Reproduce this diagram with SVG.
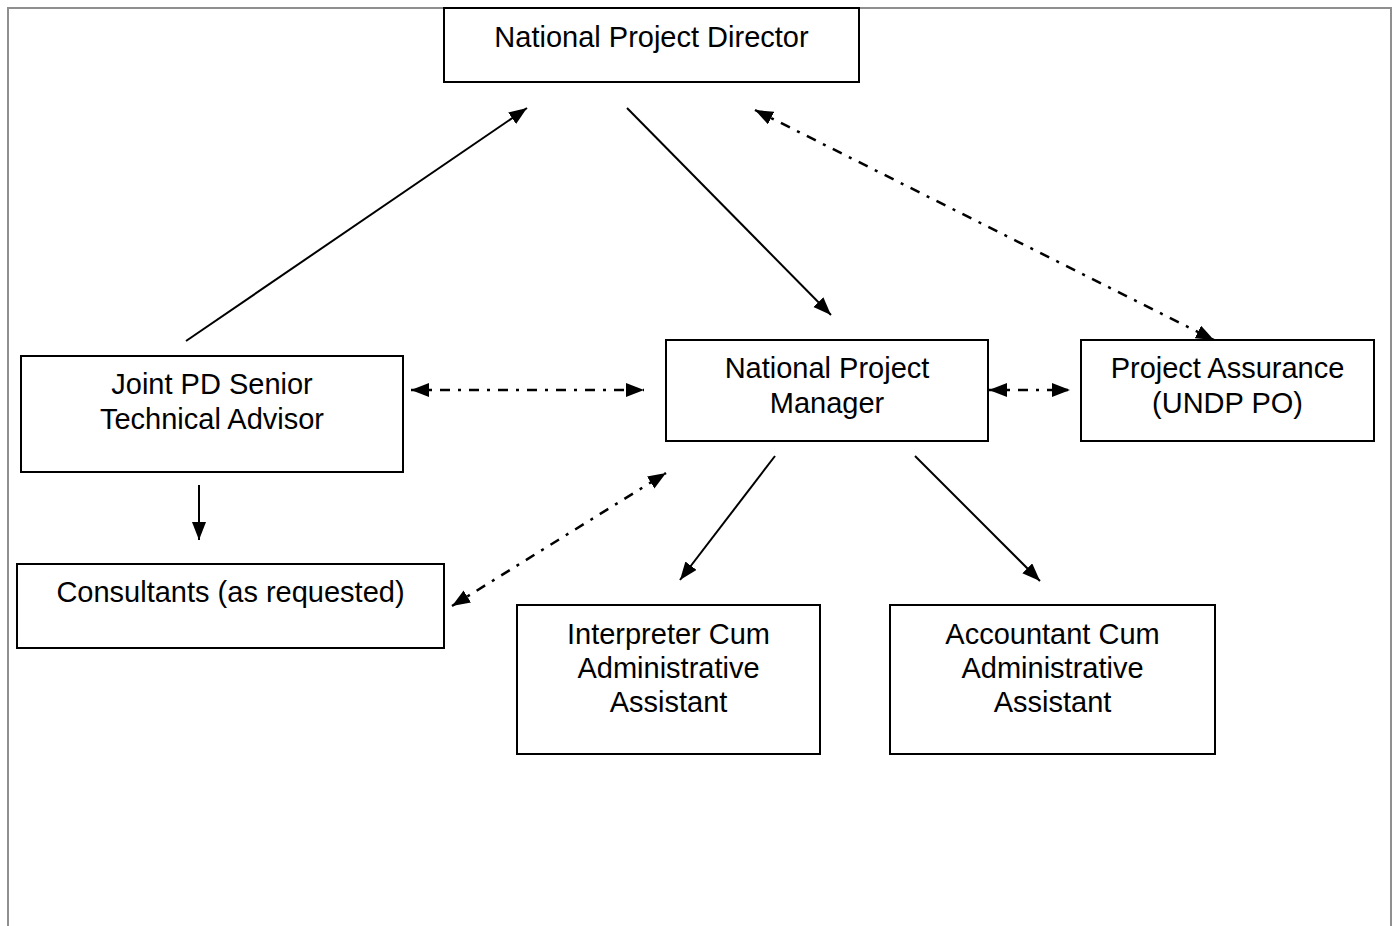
<svg xmlns="http://www.w3.org/2000/svg" width="1397" height="926" viewBox="0 0 1397 926">
<style>
.box{fill:#fff;stroke:#000;stroke-width:2}
.t{font-family:"Liberation Sans",Arial,sans-serif;font-size:29px;fill:#000;text-anchor:middle}
.solid{stroke:#000;stroke-width:2;fill:none}
.dd{stroke:#000;stroke-width:2.5;fill:none;stroke-dasharray:10 8 3 8}
.frame{stroke:#8f8f8f;stroke-width:2;fill:none}
</style>
<defs>
<marker id="ah" markerUnits="userSpaceOnUse" markerWidth="19" markerHeight="15" refX="18" refY="7" orient="auto-start-reverse" viewBox="0 0 19 15">
<path d="M0,0 L18,7 L0,14 z" fill="#000"/>
</marker>
</defs>
<rect width="1397" height="926" fill="#fff"/>
<path class="frame" d="M8,926 V8 H1391 V926"/>
<g id="connectors">
<line class="solid" x1="186" y1="341" x2="527" y2="108" marker-end="url(#ah)"/>
<line class="solid" x1="627" y1="108" x2="831" y2="315" marker-end="url(#ah)"/>
<line class="dd" x1="755" y1="110" x2="1214" y2="340" marker-start="url(#ah)" marker-end="url(#ah)"/>
<line class="dd" x1="411" y1="390" x2="644" y2="390" marker-start="url(#ah)" marker-end="url(#ah)"/>
<line class="dd" x1="989" y1="390" x2="1070" y2="390" marker-start="url(#ah)" marker-end="url(#ah)"/>
<line class="solid" x1="199" y1="485" x2="199" y2="540" marker-end="url(#ah)"/>
<line class="dd" x1="452" y1="606" x2="666" y2="473" marker-start="url(#ah)" marker-end="url(#ah)"/>
<line class="solid" x1="775" y1="456" x2="680" y2="580" marker-end="url(#ah)"/>
<line class="solid" x1="915" y1="456" x2="1040" y2="581" marker-end="url(#ah)"/>
</g>
<g id="npd">
<rect class="box" x="444" y="8" width="415" height="74"/>
<text class="t" x="651.5" y="47">National Project Director</text>
</g>
<g id="jpd">
<rect class="box" x="21" y="356" width="382" height="116"/>
<text class="t" x="212" y="394">Joint PD Senior</text>
<text class="t" x="212" y="429">Technical Advisor</text>
</g>
<g id="npm">
<rect class="box" x="666" y="340" width="322" height="101"/>
<text class="t" x="827" y="378">National Project</text>
<text class="t" x="827" y="413">Manager</text>
</g>
<g id="pa">
<rect class="box" x="1081" y="340" width="293" height="101"/>
<text class="t" x="1227.5" y="378">Project Assurance</text>
<text class="t" x="1227.5" y="413">(UNDP PO)</text>
</g>
<g id="consultants">
<rect class="box" x="17" y="564" width="427" height="84"/>
<text class="t" x="230.5" y="602">Consultants (as requested)</text>
</g>
<g id="interpreter">
<rect class="box" x="517" y="605" width="303" height="149"/>
<text class="t" x="668.5" y="644">Interpreter Cum</text>
<text class="t" x="668.5" y="678">Administrative</text>
<text class="t" x="668.5" y="712">Assistant</text>
</g>
<g id="accountant">
<rect class="box" x="890" y="605" width="325" height="149"/>
<text class="t" x="1052.5" y="644">Accountant Cum</text>
<text class="t" x="1052.5" y="678">Administrative</text>
<text class="t" x="1052.5" y="712">Assistant</text>
</g>
</svg>
